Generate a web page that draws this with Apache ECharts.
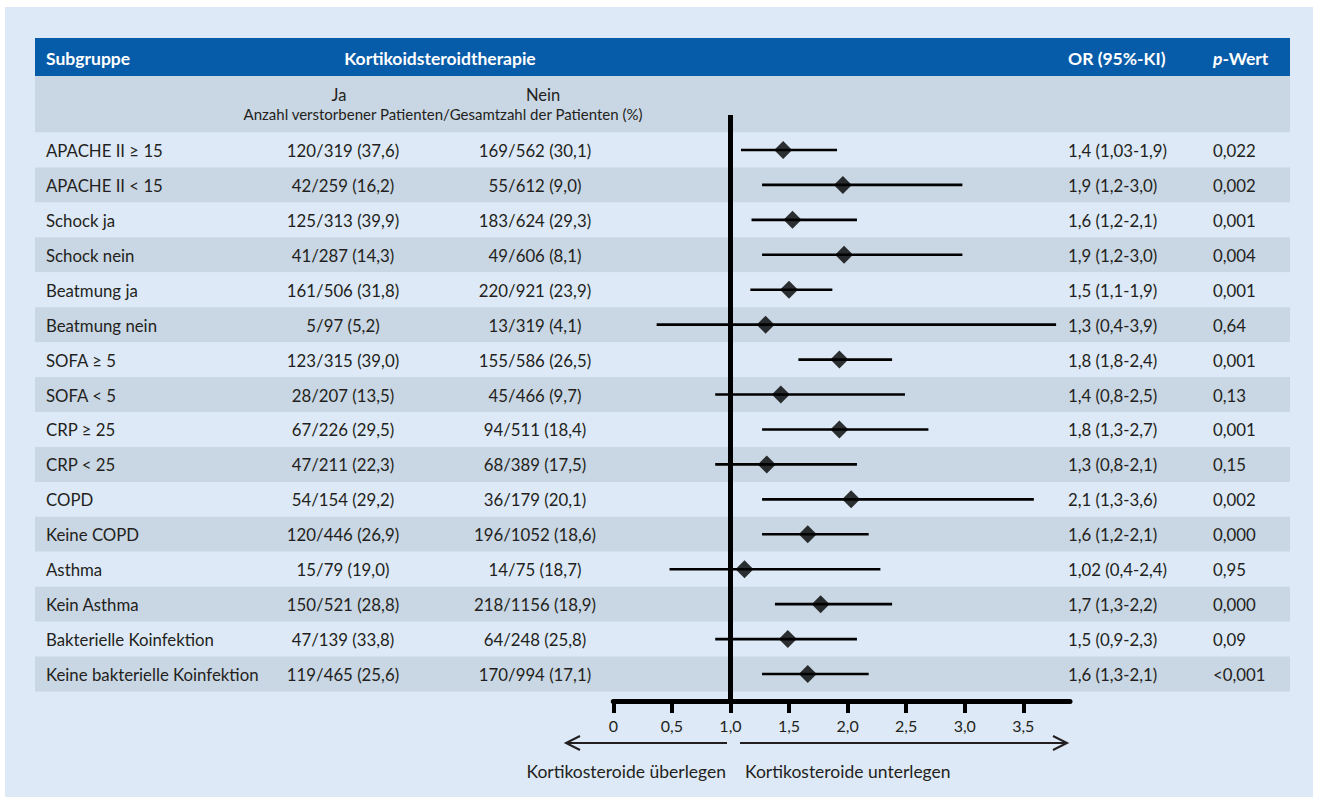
<!DOCTYPE html>
<html>
<head>
<meta charset="utf-8">
<script src="https://cdn.jsdelivr.net/npm/echarts@6/dist/echarts.min.js"></script>
<style>
html,body{margin:0;padding:0;background:#ffffff;}
#panel{position:absolute;left:5px;top:7px;width:1308px;height:790px;background:#dde9f6;}
#chart{position:absolute;left:0;top:0;width:1319px;height:803px;}
</style>
</head>
<body>
<div id="panel"></div>
<div id="chart"></div>
<script>
// ---------- DATA ----------
const subgroups = ['APACHE II ≥ 15','APACHE II < 15','Schock ja','Schock nein','Beatmung ja','Beatmung nein','SOFA ≥ 5','SOFA < 5','CRP ≥ 25','CRP < 25','COPD','Keine COPD','Asthma','Kein Asthma','Bakterielle Koinfektion','Keine bakterielle Koinfektion'];
const jaCounts = ['120/319 (37,6)','42/259 (16,2)','125/313 (39,9)','41/287 (14,3)','161/506 (31,8)','5/97 (5,2)','123/315 (39,0)','28/207 (13,5)','67/226 (29,5)','47/211 (22,3)','54/154 (29,2)','120/446 (26,9)','15/79 (19,0)','150/521 (28,8)','47/139 (33,8)','119/465 (25,6)'];
const neinCounts = ['169/562 (30,1)','55/612 (9,0)','183/624 (29,3)','49/606 (8,1)','220/921 (23,9)','13/319 (4,1)','155/586 (26,5)','45/466 (9,7)','94/511 (18,4)','68/389 (17,5)','36/179 (20,1)','196/1052 (18,6)','14/75 (18,7)','218/1156 (18,9)','64/248 (25,8)','170/994 (17,1)'];
const orLabels = ['1,4 (1,03-1,9)','1,9 (1,2-3,0)','1,6 (1,2-2,1)','1,9 (1,2-3,0)','1,5 (1,1-1,9)','1,3 (0,4-3,9)','1,8 (1,8-2,4)','1,4 (0,8-2,5)','1,8 (1,3-2,7)','1,3 (0,8-2,1)','2,1 (1,3-3,6)','1,6 (1,2-2,1)','1,02 (0,4-2,4)','1,7 (1,3-2,2)','1,5 (0,9-2,3)','1,6 (1,3-2,1)'];
const pValues = ['0,022','0,002','0,001','0,004','0,001','0,64','0,001','0,13','0,001','0,15','0,002','0,000','0,95','0,000','0,09','<0,001'];
// plotted odds ratios and 95% CI
const orEstimate = [1.45,1.96,1.53,1.97,1.50,1.30,1.93,1.43,1.93,1.31,2.03,1.66,1.12,1.77,1.49,1.66];
const ciLower    = [1.09,1.27,1.18,1.27,1.17,0.37,1.58,0.87,1.27,0.87,1.27,1.27,0.48,1.38,0.87,1.27];
const ciUpper    = [1.91,2.98,2.08,2.98,1.87,3.78,2.38,2.49,2.69,2.08,3.59,2.18,2.28,2.38,2.08,2.18];
const xTickValues = [0,0.5,1.0,1.5,2.0,2.5,3.0,3.5];
const xTickLabels = ['0','0,5','1,0','1,5','2,0','2,5','3,0','3,5'];
const referenceOR = 1;

// ---------- LAYOUT ----------
const FONT = 'Lato, "Noto Sans", sans-serif';
const TXT = '#231f20';
const ROWFONT = '16.8px ' + FONT;
const tableLeft = 35, tableRight = 1290, rowsTop = 132.5, rowsBottom = 691.5;
const rowH = (rowsBottom - rowsTop) / subgroups.length;
const plotLeft = 613.3, plotRight = 1070, plotTop = 115, plotBottom = 701;
const plotMinY = (plotTop - rowsTop) / rowH - 0.5;
const plotMaxY = (plotBottom - rowsTop) / rowH - 0.5;
const pxPerUnit = (1023.3 - 613.3) / 3.5;
const plotMaxX = (plotRight - plotLeft) / pxPerUnit;
const col = {sub: 46, ja: 343, nein: 535, or: 1068, p: 1213};

const chart = echarts.init(document.getElementById('chart'), null, {renderer: 'svg'});

const rowIdx = subgroups.map((s, i) => [0, i]);

const option = {
  backgroundColor: 'transparent',
  animation: false,
  textStyle: {fontFamily: FONT},
  grid: [
    {left: tableLeft, width: tableRight - tableLeft, top: rowsTop, height: rowsBottom - rowsTop, containLabel: false},
    {left: plotLeft, width: plotRight - plotLeft, top: plotTop, height: plotBottom - plotTop, containLabel: false}
  ],
  xAxis: [
    {gridIndex: 0, type: 'value', min: tableLeft, max: tableRight, show: false},
    {gridIndex: 1, type: 'value', min: 0, max: plotMaxX, interval: 0.5, position: 'bottom',
      axisLine: {show: true, onZero: false, lineStyle: {color: '#000', width: 5}},
      axisTick: {show: true, length: 12, lineStyle: {color: '#000', width: 4}, customValues: xTickValues},
      axisLabel: {show: true, margin: 16, fontSize: 16, color: TXT, fontFamily: FONT, customValues: xTickValues,
        formatter: v => { const k = xTickValues.findIndex(t => Math.abs(t - v) < 1e-6); return k >= 0 ? xTickLabels[k] : ''; }},
      splitLine: {show: false}}
  ],
  yAxis: [
    {gridIndex: 0, type: 'category', inverse: true, data: subgroups,
      axisLine: {show: false}, axisTick: {show: false}, axisLabel: {show: false},
      splitLine: {show: false},
      splitArea: {show: true, areaStyle: {color: ['#dde9f6', '#c9d6e3']}}},
    {gridIndex: 1, type: 'value', inverse: true, min: plotMinY, max: plotMaxY, show: false}
  ],
  series: [
    {
      type: 'custom', xAxisIndex: 0, yAxisIndex: 0, data: rowIdx, silent: true,
      renderItem: (params, api) => {
        const i = params.dataIndex;
        const y = api.coord([tableLeft, i])[1] + 0.5;
        const t = (x, txt, align) => ({type: 'text', style: {x: api.coord([x, i])[0], y: y, text: txt, align: align, verticalAlign: 'middle', fill: TXT, font: ROWFONT}});
        return {type: 'group', children: [
          t(col.sub, subgroups[i], 'left'),
          t(col.ja, jaCounts[i], 'center'),
          t(col.nein, neinCounts[i], 'center'),
          t(col.or, orLabels[i], 'left'),
          t(col.p, pValues[i], 'left')
        ]};
      }
    },
    {
      type: 'custom', xAxisIndex: 1, yAxisIndex: 1, silent: true,
      data: subgroups.map((s, i) => [ciLower[i], ciUpper[i], i]),
      encode: {x: [0, 1], y: 2},
      renderItem: (params, api) => {
        const a = api.coord([api.value(0), api.value(2)]);
        const b = api.coord([api.value(1), api.value(2)]);
        return {type: 'line', shape: {x1: a[0], y1: a[1], x2: b[0], y2: b[1]}, style: {stroke: '#000', lineWidth: 2.6}};
      }
    },
    {
      type: 'scatter', xAxisIndex: 1, yAxisIndex: 1, silent: true,
      symbol: 'diamond', symbolSize: [18, 18],
      itemStyle: {color: '#000'},
      data: orEstimate.map((v, i) => [v, i]),
      markLine: {silent: true, symbol: 'none', label: {show: false},
        lineStyle: {color: '#000', width: 5, type: 'solid'},
        data: [{xAxis: referenceOR}]}
    }
  ],
  graphic: [
    {type: 'rect', shape: {x: tableLeft, y: 38, width: tableRight - tableLeft, height: 38}, style: {fill: '#075ca9'}},
    {type: 'rect', shape: {x: tableLeft, y: 76, width: tableRight - tableLeft, height: rowsTop - 76}, style: {fill: '#c9d6e3'}},
    {type: 'text', style: {x: 46, y: 58, text: 'Subgruppe', fill: '#fff', font: 'bold 17.5px ' + FONT, verticalAlign: 'middle', align: 'left'}},
    {type: 'text', style: {x: 440, y: 58, text: 'Kortikoidsteroidtherapie', fill: '#fff', font: 'bold 17.5px ' + FONT, verticalAlign: 'middle', align: 'center'}},
    {type: 'text', style: {x: 1068, y: 58, text: 'OR (95%-KI)', fill: '#fff', font: 'bold 17.5px ' + FONT, verticalAlign: 'middle', align: 'left'}},
    {type: 'text', style: {x: 1213, y: 58, text: '{i|p}-Wert', fill: '#fff', font: 'bold 17.5px ' + FONT, verticalAlign: 'middle', align: 'left',
      rich: {i: {fontStyle: 'italic', fontWeight: 'bold', fontSize: 17.5, fill: '#fff', fontFamily: FONT}}}},
    {type: 'text', style: {x: 339, y: 95, text: 'Ja', fill: TXT, font: '16.5px ' + FONT, verticalAlign: 'middle', align: 'center'}},
    {type: 'text', style: {x: 543, y: 95, text: 'Nein', fill: TXT, font: '16.5px ' + FONT, verticalAlign: 'middle', align: 'center'}},
    {type: 'text', style: {x: 443, y: 114, text: 'Anzahl verstorbener Patienten/Gesamtzahl der Patienten (%)', fill: TXT, font: '15px ' + FONT, verticalAlign: 'middle', align: 'center'}},
    // direction arrows
    {type: 'polyline', shape: {points: [[727, 743], [566, 743]]}, style: {stroke: '#231f20', lineWidth: 2, fill: null}},
    {type: 'polyline', shape: {points: [[580, 736], [566, 743], [580, 750]]}, style: {stroke: '#231f20', lineWidth: 2, fill: null}},
    {type: 'polyline', shape: {points: [[740, 743], [1067, 743]]}, style: {stroke: '#231f20', lineWidth: 2, fill: null}},
    {type: 'polyline', shape: {points: [[1053, 736], [1067, 743], [1053, 750]]}, style: {stroke: '#231f20', lineWidth: 2, fill: null}},
    {type: 'text', style: {x: 726, y: 771, text: 'Kortikosteroide überlegen', fill: TXT, font: '17.5px ' + FONT, verticalAlign: 'middle', align: 'right'}},
    {type: 'text', style: {x: 745, y: 771, text: 'Kortikosteroide unterlegen', fill: TXT, font: '17.5px ' + FONT, verticalAlign: 'middle', align: 'left'}}
  ]
};
chart.setOption(option);
</script>
</body>
</html>
